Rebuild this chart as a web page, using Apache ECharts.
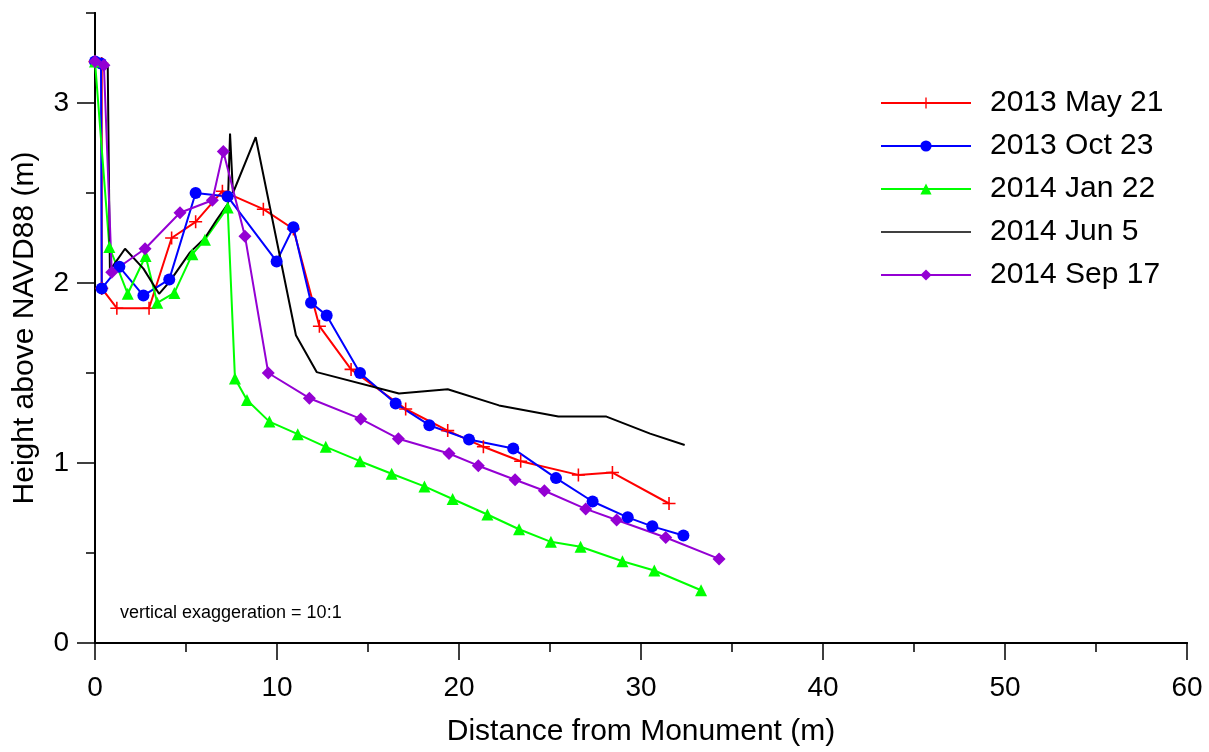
<!DOCTYPE html>
<html>
<head>
<meta charset="utf-8">
<script src="https://cdn.jsdelivr.net/npm/echarts@6/dist/echarts.min.js"></script>
<style>html,body{margin:0;padding:0;background:#fff}#c{width:1209px;height:752px}</style>
</head>
<body>
<div id="c"></div>
<script>
const seriesNames = ['2013 May 21', '2013 Oct 23', '2014 Jan 22', '2014 Jun 5', '2014 Sep 17'];
const may2013 = [[0,3.23],[0.37,3.22],[0.37,1.97],[1.2,1.86],[2.97,1.86],[4.21,2.25],[5.53,2.34],[7.0,2.51],[9.25,2.41],[10.9,2.30],[12.33,1.76],[14.07,1.52],[17.07,1.30],[19.38,1.18],[21.34,1.09],[23.39,1.01],[26.56,0.934],[28.43,0.947],[31.54,0.775]];
const oct2013 = [[0,3.23],[0.33,3.22],[0.37,1.97],[1.34,2.09],[2.66,1.93],[4.08,2.02],[5.53,2.50],[7.29,2.48],[9.98,2.12],[10.9,2.31],[11.87,1.89],[12.73,1.82],[14.56,1.50],[16.52,1.33],[18.37,1.21],[20.55,1.13],[22.98,1.08],[25.33,0.916],[27.34,0.786],[29.27,0.698],[30.62,0.648],[32.33,0.597]];
const jan2014 = [[0,3.23],[0.79,2.20],[1.8,1.94],[2.78,2.15],[3.42,1.89],[4.36,1.945],[5.35,2.16],[6.04,2.24],[7.29,2.42],[7.69,1.47],[8.35,1.35],[9.58,1.23],[11.14,1.16],[12.68,1.09],[14.56,1.01],[16.3,0.94],[18.1,0.87],[19.65,0.80],[21.56,0.714],[23.3,0.632],[25.05,0.562],[26.68,0.535],[28.98,0.454],[30.73,0.403],[33.3,0.293]];
const jun2014 = [[0,3.23],[0.7,3.2],[0.82,2.07],[1.65,2.19],[2.66,2.08],[3.52,1.94],[4.08,2.005],[5.22,2.17],[6.04,2.25],[6.68,2.35],[7.3,2.44],[7.42,2.83],[7.58,2.50],[8.83,2.81],[11.04,1.71],[12.18,1.505],[16.7,1.386],[19.38,1.41],[22.2,1.32],[25.46,1.258],[28.1,1.258],[30.5,1.163],[32.4,1.10]];
const sep2014 = [[0,3.23],[0.49,3.21],[0.92,2.06],[2.75,2.19],[4.67,2.39],[6.45,2.46],[7.05,2.73],[8.24,2.26],[9.52,1.50],[11.78,1.36],[14.6,1.245],[16.67,1.135],[19.45,1.053],[21.06,0.985],[23.08,0.907],[24.69,0.846],[26.96,0.745],[28.66,0.683],[31.36,0.586],[34.29,0.467]];
const xMajorTicks = [0,10,20,30,40,50,60];
const xMinorTicks = [5,15,25,35,45,55];
const yMajorTicks = [0,1,2,3];
const yMinorTicks = [0.5,1.5,2.5,3.5];
const noteText = 'vertical exaggeration = 10:1';

const FONT = 'Liberation Sans';
const plusPath = 'path://M-0.12,-1L0.12,-1L0.12,-0.12L1,-0.12L1,0.12L0.12,0.12L0.12,1L-0.12,1L-0.12,0.12L-1,0.12L-1,-0.12L-0.12,-0.12Z';
const linePath = 'path://M0,0L60,0L60,1L0,1Z';
const chart = echarts.init(document.getElementById('c'), null, {renderer: 'canvas'});

const axisBase = {
  type: 'value', splitLine: {show: false},
  axisLine: {show: true, onZero: false, lineStyle: {color: '#000', width: 2}}
};

function mk(name, data, color, symbol, size) {
  return {
    name: name, type: 'line', data: data, xAxisIndex: 0, yAxisIndex: 0,
    symbol: symbol, symbolSize: size, showSymbol: symbol !== 'none',
    lineStyle: {color: color, width: 2}, itemStyle: {color: color},
    animation: false, z: 2
  };
}

chart.setOption({
  animation: false,
  textStyle: {fontFamily: FONT},
  grid: {left: 95, right: 22, top: 13, bottom: 102, containLabel: false},
  xAxis: [
    Object.assign({}, axisBase, {
      min: 0, max: 60, position: 'bottom',
      axisTick: {show: true, length: 17, customValues: xMajorTicks, lineStyle: {color: '#000', width: 1.5}},
      axisLabel: {customValues: xMajorTicks, margin: 31, fontSize: 28, color: '#000', fontFamily: FONT},
      name: 'Distance from Monument (m)', nameLocation: 'middle', nameGap: 74,
      nameTextStyle: {fontSize: 30, color: '#000', fontFamily: FONT}
    }),
    Object.assign({}, axisBase, {
      min: 0, max: 60, position: 'bottom',
      axisTick: {show: true, length: 9, customValues: xMinorTicks, lineStyle: {color: '#000', width: 1.5}},
      axisLabel: {show: false}
    })
  ],
  yAxis: [
    Object.assign({}, axisBase, {
      min: 0, max: 3.5, position: 'left',
      axisTick: {show: true, length: 18, customValues: yMajorTicks, lineStyle: {color: '#000', width: 1.5}},
      axisLabel: {customValues: yMajorTicks, margin: 26, fontSize: 28, color: '#000', fontFamily: FONT},
      name: 'Height above NAVD88 (m)', nameLocation: 'middle', nameGap: 55, nameRotate: 90,
      nameTextStyle: {fontSize: 30, color: '#000', fontFamily: FONT}
    }),
    Object.assign({}, axisBase, {
      min: 0, max: 3.5, position: 'left',
      axisTick: {show: true, length: 9, customValues: yMinorTicks, lineStyle: {color: '#000', width: 1.5}},
      axisLabel: {show: false}
    })
  ],
  legend: {
    orient: 'vertical', left: 880, top: 88, padding: 0,
    itemWidth: 90, itemHeight: 14, itemGap: 13,
    textStyle: {fontSize: 30, color: '#000', fontFamily: FONT, lineHeight: 30, padding: [0,0,0,14]},
    data: [
      {name: seriesNames[0]},
      {name: seriesNames[1]},
      {name: seriesNames[2]},
      {name: seriesNames[3], icon: linePath, itemStyle: {color: '#000'}},
      {name: seriesNames[4]}
    ]
  },
  graphic: [{
    type: 'text', left: 120, top: 604,
    style: {text: noteText, fontSize: 18, fill: '#000', fontFamily: FONT}
  }],
  series: [
    mk(seriesNames[0], may2013, '#ff0000', plusPath, 13),
    mk(seriesNames[1], oct2013, '#0000ff', 'circle', 12),
    mk(seriesNames[2], jan2014, '#00ff00', 'triangle', 12),
    mk(seriesNames[3], jun2014, '#000000', 'none', 0),
    mk(seriesNames[4], sep2014, '#9400d3', 'diamond', 13)
  ]
});
</script>
</body>
</html>
